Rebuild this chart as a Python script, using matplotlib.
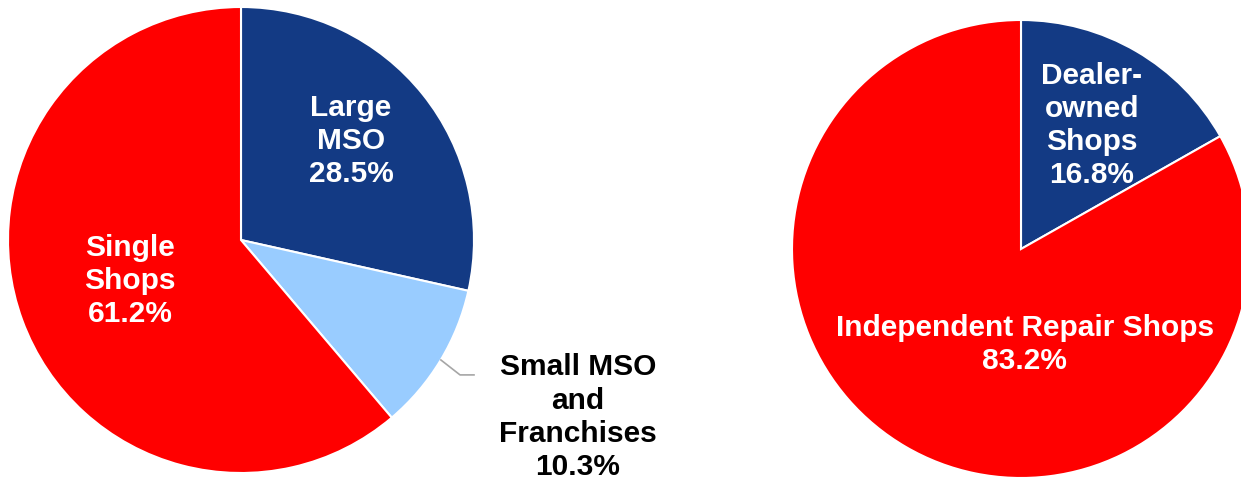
import matplotlib
matplotlib.use("Agg")
import matplotlib.pyplot as plt

plt.rcParams['font.family'] = ['Liberation Sans', 'DejaVu Sans']

# Shop mix by ownership type
mso_names = ["Large\nMSO", "Small MSO\nand\nFranchises", "Single\nShops"]
mso_share = [28.5, 10.3, 61.2]
mso_colors = ["#133A84", "#99CCFF", "#FF0000"]
mso_text = ["white", "black", "white"]

dealer_names = ["Dealer-\nowned\nShops", "Independent Repair Shops"]
dealer_share = [16.8, 83.2]
dealer_colors = ["#133A84", "#FF0000"]
dealer_text = ["white", "white"]

W, H = 1241, 479
fig = plt.figure(figsize=(W / 100, H / 100), dpi=100)


def pie_axes(cx, cy, r):
    # place an axes so the unit pie lands on centre (cx, cy) with radius r, pixels from top-left
    ax = fig.add_axes([(cx - r) / W, (H - cy - r) / H, 2 * r / W, 2 * r / H])
    ax.axis("off")
    return ax


def draw(ax, names, share, colors, text_colors, label_pos):
    ax.pie(share, colors=colors, startangle=90, counterclock=False, radius=1,
           wedgeprops=dict(edgecolor="white", linewidth=1.5))
    ax.set_xlim(-1, 1)
    ax.set_ylim(-1, 1)
    ax.set_aspect("equal")
    for name, val, c, (x, y) in zip(names, share, text_colors, label_pos):
        ax.text(x, y, f"{name}\n{val:.1f}%", color=c, ha="center", va="center",
                fontsize=21.5, fontweight="bold", linespacing=1.23, clip_on=False)


ax1 = pie_axes(241, 240, 233)
draw(ax1, mso_names, mso_share, mso_colors, mso_text,
     [(0.472, 0.425), (1.446, -0.760), (-0.476, -0.176)])
# leader line for the small slice
ax1.plot([0.858, 0.94, 1.0], [-0.515, -0.579, -0.579], color="#A6A6A6", lw=1.2, clip_on=False)

ax2 = pie_axes(1021, 249, 229)
draw(ax2, dealer_names, dealer_share, dealer_colors, dealer_text,
     [(0.31, 0.541), (0.017, -0.419)])

fig.savefig("out.png", dpi=100)
